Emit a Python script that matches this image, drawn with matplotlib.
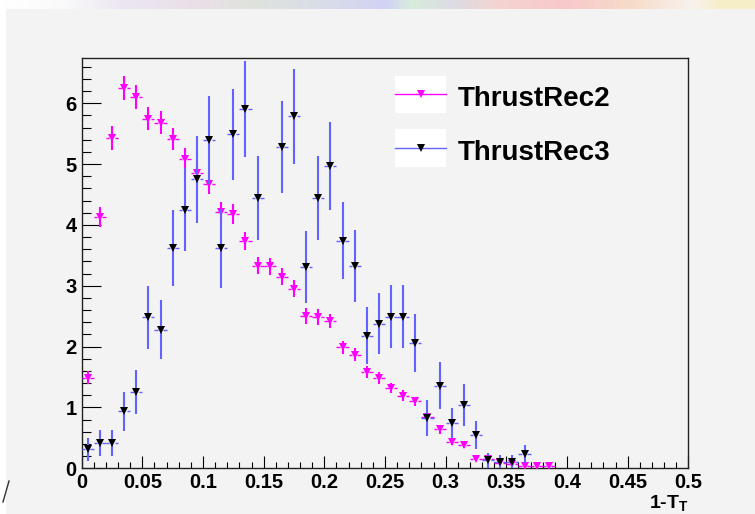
import numpy as np
import matplotlib
matplotlib.use("Agg")
import matplotlib.pyplot as plt
from matplotlib.lines import Line2D
from matplotlib.patches import Rectangle
from matplotlib.ticker import MultipleLocator, FixedLocator, FixedFormatter

plt.rcParams["font.family"] = ["Liberation Sans", "DejaVu Sans"]
plt.rcParams["font.weight"] = "bold"
plt.rcParams["mathtext.fontset"] = "custom"
plt.rcParams["mathtext.rm"] = "Liberation Sans:bold"

# 1-T_T histogram: 50 bins on [0, 0.5]; NaN marks empty bins
bin_edges = np.linspace(0.0, 0.5, 51)
nan = np.nan

rec2_values = [1.49, 4.13, 5.43, 6.25, 6.10, 5.75, 5.68, 5.42, 5.08, 4.86,
               4.68, 4.22, 4.18, 3.74, 3.33, 3.32, 3.15, 2.95, 2.51, 2.49,
               2.42, 1.99, 1.87, 1.58, 1.49, 1.32, 1.19, 1.10, 0.85, 0.64,
               0.44, 0.38, 0.15, 0.16, 0.08, 0.07, 0.04, 0.04, 0.04]
rec2_errors = [0.11, 0.16, 0.19, 0.20, 0.20, 0.19, 0.19, 0.18, 0.18, 0.18,
               0.17, 0.16, 0.16, 0.15, 0.14, 0.14, 0.14, 0.14, 0.13, 0.13,
               0.12, 0.11, 0.11, 0.10, 0.10, 0.09, 0.09, 0.08, 0.08, 0.07,
               0.06, 0.05, 0.03, 0.03, 0.02, 0.02, 0.02, 0.02, 0.02]

rec3_values = [0.31, 0.42, 0.42, 0.94, 1.25, 2.48, 2.28, 3.62, 4.25, 4.75,
               5.40, 3.62, 5.49, 5.90, 4.44, nan, 5.28, 5.79, 3.31, 4.44,
               4.97, 3.74, 3.32, 2.18, 2.38, 2.49, 2.49, 2.06, 0.83, 1.36,
               0.74, 1.04, 0.55, 0.13, 0.11, 0.11, 0.24]
rec3_errors = [0.19, 0.21, 0.21, 0.32, 0.36, 0.52, 0.49, 0.62, 0.68, 0.71,
               0.72, 0.65, 0.75, 0.79, 0.69, nan, 0.76, 0.78, 0.59, 0.69,
               0.73, 0.63, 0.59, 0.47, 0.50, 0.52, 0.52, 0.47, 0.30, 0.38,
               0.25, 0.34, 0.23, 0.12, 0.11, 0.11, 0.15]

series_names = ["ThrustRec2", "ThrustRec3"]
x_tick_values = [0, 0.05, 0.1, 0.15, 0.2, 0.25, 0.3, 0.35, 0.4, 0.45, 0.5]
x_tick_labels = ["0", "0.05", "0.1", "0.15", "0.2", "0.25", "0.3", "0.35",
                 "0.4", "0.45", "0.5"]
y_tick_values = [0, 1, 2, 3, 4, 5, 6]
y_tick_labels = ["0", "1", "2", "3", "4", "5", "6"]

BG = "#f3f3f3"
MAGENTA = "#ff00ff"
BLUE = "#6262ff"

W, H = 755, 514
fig = plt.figure(figsize=(W / 100, H / 100), dpi=100, facecolor=BG)

# frame placed in pixel units
left, right, top, bottom = 81.7, 688.3, 58.3, 468.3
ax = fig.add_axes([left / W, 1 - bottom / H, (right - left) / W, (bottom - top) / H])
ax.set_facecolor(BG)
ax.set_xlim(0, 0.5)
ax.set_ylim(0, 6.74)


def draw_hist(values, errors, line_color, marker_color, z):
    vals = np.array(values, dtype=float)
    errs = np.array(errors, dtype=float)
    n = len(vals)
    lo = bin_edges[:n]
    hi = bin_edges[1:n + 1]
    xc = 0.5 * (lo + hi)
    half = 0.5 * (hi - lo)
    ok = ~np.isnan(vals)
    xc, lo, hi, half, vals, errs = xc[ok], lo[ok], hi[ok], half[ok], vals[ok], errs[ok]
    gap = 0.42 * half * 2
    # horizontal bin-width bars with a gap around the marker
    ax.hlines(vals, lo, xc - gap / 2, colors=line_color, lw=1.0, zorder=z)
    ax.hlines(vals, xc + gap / 2, hi, colors=line_color, lw=1.0, zorder=z)
    # vertical error bars
    ax.vlines(xc, vals - errs, vals + errs, colors=line_color, lw=1.5, zorder=z)
    ax.plot(xc, vals, linestyle="none", marker="v", ms=6.4, mew=0,
            color=marker_color, zorder=z + 0.5, clip_on=True)


draw_hist(rec2_values, rec2_errors, MAGENTA, MAGENTA, 3)
draw_hist(rec3_values, rec3_errors, BLUE, "black", 5)

# ticks inside, ROOT-like
ax.xaxis.set_major_locator(FixedLocator(x_tick_values))
ax.xaxis.set_major_formatter(FixedFormatter(x_tick_labels))
ax.xaxis.set_minor_locator(MultipleLocator(0.01))
ax.yaxis.set_major_locator(FixedLocator(y_tick_values))
ax.yaxis.set_major_formatter(FixedFormatter(y_tick_labels))
ax.yaxis.set_minor_locator(MultipleLocator(0.2))
ax.tick_params(axis="x", which="major", direction="in", length=8.8, width=0.8,
               labelsize=14.5, pad=3.5, colors="black")
ax.tick_params(axis="x", which="minor", direction="in", length=4.4, width=0.8)
ax.tick_params(axis="y", which="major", direction="in", length=13.5, width=0.8,
               labelsize=14.5, pad=3.5)
ax.tick_params(axis="y", which="minor", direction="in", length=6.5, width=0.8)
for lab in ax.get_xticklabels() + ax.get_yticklabels():
    lab.set_fontweight("bold")
for sp in ax.spines.values():
    sp.set_linewidth(1.0)
    sp.set_color("#222222")

# axis title at the right end
ax.text(1.0, -0.087, "1-T$_{\\mathrm{T}}$", transform=ax.transAxes,
        ha="right", va="center", fontsize=14, fontweight="bold")


# legend drawn in pixel coordinates
def px_to_ax(px, py):
    return (px - left) / (right - left), (bottom - py) / (bottom - top)


legend_rows = [(75.7, 113.3, 94.3, MAGENTA, MAGENTA),
               (129.0, 166.7, 148.5, BLUE, "black")]
for name, (y0, y1, yl, lc, mc) in zip(series_names, legend_rows):
    ax0, ay0 = px_to_ax(395, y1)
    ax1, ay1 = px_to_ax(446, y0)
    ax.add_patch(Rectangle((ax0, ay0), ax1 - ax0, ay1 - ay0, transform=ax.transAxes,
                           facecolor="white", edgecolor="none", zorder=8))
    _, aly = px_to_ax(0, yl)
    ax.add_line(Line2D([ax0, ax1], [aly, aly], transform=ax.transAxes,
                       color=lc, lw=1.0, zorder=9))
    mx, _ = px_to_ax(420.7, yl)
    ax.add_line(Line2D([mx], [aly], transform=ax.transAxes, marker="v", ms=6.4,
                       mew=0, color=mc, linestyle="none", zorder=10))
    tx, ty = px_to_ax(457.3, yl + 4.5)
    ax.text(tx, ty, name, transform=ax.transAxes, ha="left", va="center",
            fontsize=20, fontweight="bold", zorder=10)

# window chrome: pale colour band on top and white strip on the left
band = fig.add_axes([0, 1 - 9 / H, 1, 9 / H])
stops = [(0.00, "#ffffff"), (0.08, "#fafafa"), (0.16, "#ece6f2"), (0.26, "#eadfe8"),
         (0.33, "#dfe3dc"), (0.44, "#d8dcea"), (0.51, "#d2d2f6"), (0.545, "#d6ecdc"),
         (0.60, "#dcdce4"), (0.66, "#f4d4d0"), (0.75, "#f8c8cc"), (0.84, "#f6dcc8"),
         (0.92, "#f8f2ee"), (0.96, "#f6eec4"), (1.00, "#f6eec8")]
cmap = matplotlib.colors.LinearSegmentedColormap.from_list("band", stops)
band.imshow(np.linspace(0, 1, 400)[None, :], aspect="auto", cmap=cmap,
            extent=[0, 1, 0, 1])
band.set_axis_off()
strip = fig.add_axes([0, 0, 6 / W, 1 - 9 / H])
strip.set_facecolor("white")
strip.set_xticks([])
strip.set_yticks([])
for sp in strip.spines.values():
    sp.set_visible(False)
fig.add_artist(Line2D([9 / W, 3 / W], [1 - 481 / H, 1 - 502 / H], color="#333333",
                      lw=1.0, transform=fig.transFigure))

fig.savefig("out.png", dpi=100, facecolor=BG)
